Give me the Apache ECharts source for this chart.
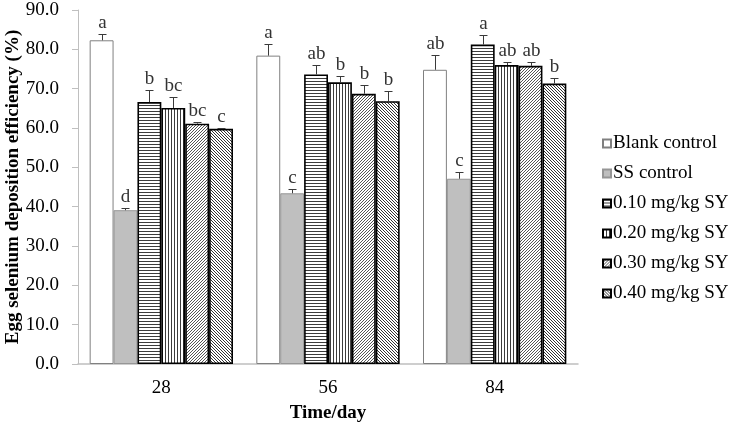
<!DOCTYPE html>
<html>
<head>
<meta charset="utf-8">
<script src="https://cdn.jsdelivr.net/npm/echarts@6/dist/echarts.min.js"></script>
<style>
html,body{margin:0;padding:0;background:#fff;}
#chart{width:735px;height:425px;}
</style>
</head>
<body>
<div id="chart"></div>
<script>
// ---- data ----
var categories = ['28', '56', '84'];
var seriesNames = ['Blank control', 'SS control', '0.10 mg/kg SY', '0.20 mg/kg SY', '0.30 mg/kg SY', '0.40 mg/kg SY'];
var blankValues = [82.3, 78.4, 74.8];
var ssValues = [39.1, 43.4, 47.1];
var sy010Values = [66.6, 73.6, 81.2];
var sy020Values = [65.1, 71.6, 76.0];
var sy030Values = [61.1, 68.7, 75.8];
var sy040Values = [59.8, 66.8, 71.3];
var blankErr = [1.5, 2.9, 3.7];
var ssErr = [0.5, 1.2, 1.8];
var sy010Err = [3.1, 2.3, 2.4];
var sy020Err = [2.8, 1.5, 0.9];
var sy030Err = [0.3, 2.3, 0.9];
var sy040Err = [0.3, 2.5, 1.4];
var blankLetters = ['a', 'a', 'ab'];
var ssLetters = ['d', 'c', 'c'];
var sy010Letters = ['b', 'ab', 'a'];
var sy020Letters = ['bc', 'b', 'ab'];
var sy030Letters = ['bc', 'b', 'ab'];
var sy040Letters = ['c', 'b', 'b'];
var yTicks = [0, 10, 20, 30, 40, 50, 60, 70, 80, 90];

var allValues = [blankValues, ssValues, sy010Values, sy020Values, sy030Values, sy040Values];
var allErr = [blankErr, ssErr, sy010Err, sy020Err, sy030Err, sy040Err];
var allLetters = [blankLetters, ssLetters, sy010Letters, sy020Letters, sy030Letters, sy040Letters];

// ---- patterns ----
function makePattern(type) {
  var c = document.createElement('canvas');
  var ctx = c.getContext('2d');
  c.width = 3; c.height = 3;
  ctx.fillStyle = '#fff'; ctx.fillRect(0, 0, 3, 3);
  if (type === 'h') {
    ctx.fillStyle = '#3c3c3c'; ctx.fillRect(0, 0, 3, 1);
  } else if (type === 'v') {
    ctx.fillStyle = '#3c3c3c'; ctx.fillRect(0, 0, 1, 3);
  } else if (type === 'd1') {
    ctx.fillStyle = '#555';
    ctx.fillRect(2, 0, 1, 1); ctx.fillRect(1, 1, 1, 1); ctx.fillRect(0, 2, 1, 1);
  } else {
    ctx.fillStyle = '#333';
    ctx.fillRect(0, 0, 1, 1); ctx.fillRect(1, 1, 1, 1); ctx.fillRect(2, 2, 1, 1);
  }
  return { image: c, repeat: 'repeat' };
}

var styles = [
  { color: '#ffffff', borderColor: '#808080', borderWidth: 1 },
  { color: '#bfbfbf', borderColor: '#969696', borderWidth: 1 },
  { color: makePattern('h'), borderColor: '#000', borderWidth: 1.6 },
  { color: makePattern('v'), borderColor: '#000', borderWidth: 1.6 },
  { color: makePattern('d1'), borderColor: '#000', borderWidth: 1.6 },
  { color: makePattern('d2'), borderColor: '#000', borderWidth: 1.6 }
];

var CAT_GAP = 0.14;
var serif = '"Liberation Serif", "Times New Roman", serif';

var series = seriesNames.map(function (name, i) {
  return {
    name: name,
    type: 'bar',
    data: allValues[i],
    barGap: '0%',
    barCategoryGap: (CAT_GAP * 100) + '%',
    itemStyle: styles[i],
    emphasis: { disabled: true },
    animation: false
  };
});

// error bars + significance letters
var errData = [];
for (var s = 0; s < seriesNames.length; s++) {
  for (var c = 0; c < categories.length; c++) {
    errData.push([c, s, allValues[s][c], allErr[s][c], allLetters[s][c]]);
  }
}
series.push({
  type: 'custom',
  name: 'err',
  silent: true,
  animation: false,
  encode: { x: 0, y: 2 },
  data: errData,
  z: 10,
  renderItem: function (params, api) {
    var cat = api.value(0), sIdx = api.value(1), val = api.value(2), err = api.value(3);
    var letter = errData[params.dataIndex][4];
    var base = api.coord([cat, val]);
    var top = api.coord([cat, val + err]);
    var band = api.size([1, 0])[0];
    var groupW = band * (1 - CAT_GAP);
    var bw = groupW / seriesNames.length;
    var x = Math.round(base[0] - groupW / 2 + bw * (sIdx + 0.5)) + 0.5;
    var y0 = base[1], y1 = Math.round(top[1]) + 0.5;
    var st = { stroke: '#3a3a3a', lineWidth: 1 };
    return {
      type: 'group',
      children: [
        { type: 'line', shape: { x1: x, y1: y0, x2: x, y2: y1 }, style: st },
        { type: 'line', shape: { x1: x - 4, y1: y1, x2: x + 4, y2: y1 }, style: st },
        { type: 'text', x: x, y: y1 - 2, style: { text: letter, fill: '#333', font: '19px ' + serif, textAlign: 'center', textVerticalAlign: 'bottom' } }
      ]
    };
  }
});

var chart = echarts.init(document.getElementById('chart'), null, { renderer: 'canvas' });
chart.setOption({
  animation: false,
  backgroundColor: '#fff',
  grid: { left: 78, right: 157, top: 10, bottom: 61, containLabel: false, outerBoundsMode: 'none' },
  legend: {
    orient: 'vertical',
    left: 597,
    top: 129,
    itemWidth: 8,
    itemHeight: 8,
    itemGap: 11,
    icon: 'rect',
    data: seriesNames,
    textStyle: { fontFamily: serif, fontSize: 19, color: '#000', padding: [0, 0, 0, -3] },
    selectedMode: false
  },
  xAxis: {
    type: 'category',
    data: categories,
    name: 'Time/day',
    nameLocation: 'middle',
    nameGap: 40,
    nameMoveOverlap: false,
    nameTextStyle: { fontFamily: serif, fontSize: 19, fontWeight: 'bold', color: '#000' },
    axisLine: { lineStyle: { color: '#bfbfbf', width: 1.5 } },
    axisTick: { show: false },
    axisLabel: { fontFamily: serif, fontSize: 19, color: '#000', margin: 15 }
  },
  yAxis: {
    type: 'value',
    min: yTicks[0],
    max: yTicks[yTicks.length - 1],
    interval: 10,
    name: 'Egg selenium deposition efficiency (%)',
    nameLocation: 'middle',
    nameGap: 55,
    nameMoveOverlap: false,
    nameTextStyle: { fontFamily: serif, fontSize: 19, fontWeight: 'bold', color: '#000' },
    axisLine: { show: true, lineStyle: { color: '#bfbfbf', width: 1 } },
    axisTick: { show: true, length: 6, lineStyle: { color: '#bfbfbf' } },
    splitLine: { show: false },
    axisLabel: { fontFamily: serif, fontSize: 19, color: '#000', margin: 19, formatter: function (v) { return v.toFixed(1); } }
  },
  series: series
});
</script>
</body>
</html>
